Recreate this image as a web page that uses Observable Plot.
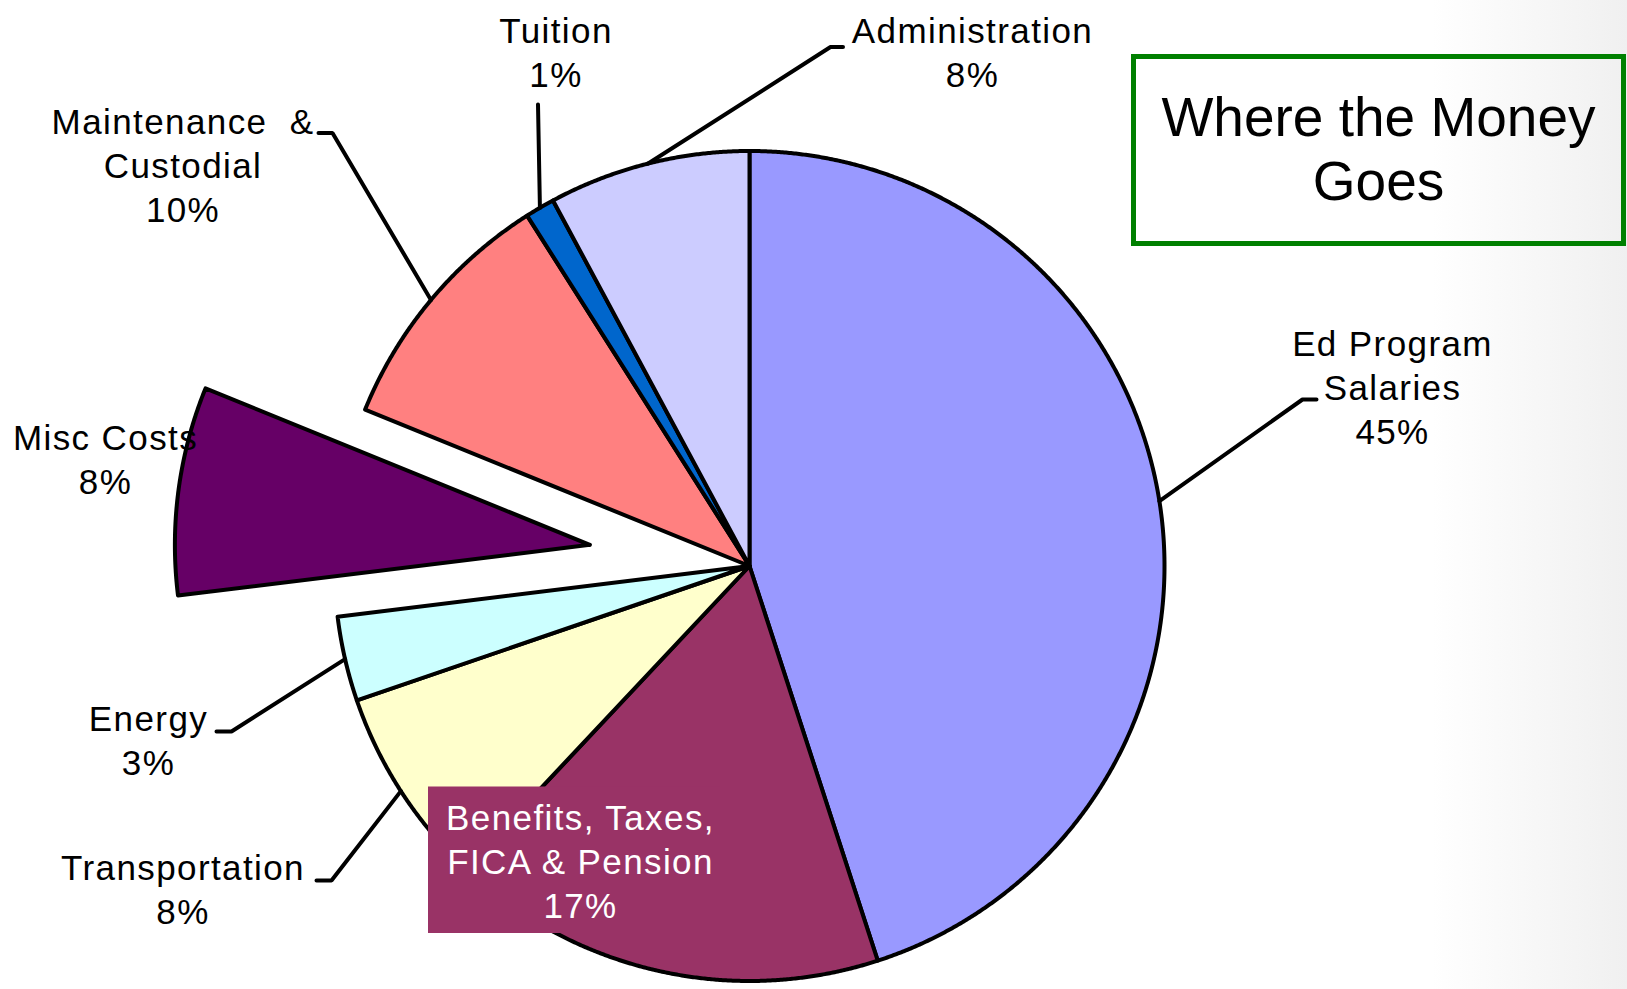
<!DOCTYPE html>
<html>
<head>
<meta charset="utf-8">
<script src="https://cdn.jsdelivr.net/npm/d3@7"></script>
<script src="https://cdn.jsdelivr.net/npm/@observablehq/plot@0.6"></script>
<style>
  html, body { margin: 0; padding: 0; }
  body {
    width: 1627px; height: 989px; overflow: hidden; position: relative;
    background: linear-gradient(90deg, #ffffff 0%, #ffffff 88%, #f0f0f0 100%);
    font-family: "Liberation Sans", Arial, sans-serif;
  }
  #chart { position: absolute; left: 0; top: 0; }
  #title {
    position: absolute; left: 1131px; top: 54px; width: 495px; height: 192px;
    box-sizing: border-box; border: 5px solid #008000;
    padding-top: 26px; text-align: center;
    font-size: 55px; line-height: 64px; color: #000;
  }
</style>
</head>
<body>
<div id="chart"></div>
<div id="title">Where the Money<br>Goes</div>
<script>
// ---- data ----
const categories = ["Ed Program Salaries", "Benefits, Taxes, FICA & Pension", "Transportation", "Energy",
                    "Misc Costs", "Maintenance & Custodial", "Tuition", "Administration"];
const values = [45.0, 17.0, 7.75, 3.3, 8.1, 9.85, 1.15, 7.85];
const labelNames = ["Ed Program\nSalaries", "Benefits, Taxes,\nFICA & Pension", "Transportation", "Energy",
                    "Misc Costs", "Maintenance\u00a0 &\nCustodial", "Tuition", "Administration"];
const sliceColors = ["#9999FF", "#993366", "#FFFFCC", "#CCFFFF", "#660066", "#FF8080", "#0066CC", "#CCCCFF"];
const explodedCategory = "Misc Costs";
const boxedCategory = "Benefits, Taxes, FICA & Pension";

// ---- layout (pixels relative to pie centre) ----
const R = 415, EXPLODE = 161, LINE_H = 44, FONT = 35;
const labelLayout = {
  "Ed Program Salaries":            {x: 643,    y: -210,   leader: [[553, -166.5], [567, -166.5]]},
  "Benefits, Taxes, FICA & Pension":{x: -169,   y: 264,    leader: null},
  "Transportation":                 {x: -566.5, y: 314,    leader: [[-418, 314.5], [-433, 314.5]]},
  "Energy":                         {x: -601,   y: 165,    leader: [[-518, 165.5], [-533, 165.5]]},
  "Misc Costs":                     {x: -644,   y: -116,   leader: null},
  "Maintenance & Custodial":        {x: -566.5, y: -432,   leader: [[-417, -433], [-431, -433]]},
  "Tuition":                        {x: -193.5, y: -523,   leader: [[-211.5, -461.5]]},
  "Administration":                 {x: 223,    y: -523,   leader: [[81, -519], [93.5, -519]]}
};
const labelBox = {x1: -321, x2: -29, y1: 221, y2: 367.5};

// ---- geometry from the data ----
const rows = categories.map((name, i) => ({name, value: values[i], label: labelNames[i]}));
const arcs = d3.pie().sort(null).value(d => d.value)(rows);

const slicePts = [];
const leaderPts = [];
const textRows = [];
arcs.forEach(a => {
  const name = a.data.name;
  const mid = (a.startAngle + a.endAngle) / 2;
  const off = name === explodedCategory ? EXPLODE : 0;
  const cx = off * Math.sin(mid), cy = -off * Math.cos(mid);
  slicePts.push({name, x: cx, y: cy});
  const n = Math.max(2, Math.ceil((a.endAngle - a.startAngle) / 0.004));
  for (let k = 0; k <= n; k++) {
    const t = a.startAngle + (a.endAngle - a.startAngle) * k / n;
    slicePts.push({name, x: cx + R * Math.sin(t), y: cy - R * Math.cos(t)});
  }
  slicePts.push({name, x: cx, y: cy});

  const lay = labelLayout[name];
  if (lay.leader) {
    leaderPts.push({name, x: cx + R * Math.sin(mid), y: cy - R * Math.cos(mid)});
    lay.leader.forEach(([x, y]) => leaderPts.push({name, x, y}));
  }
  const text = `${a.data.label}\n${Math.round(a.data.value)}%`;
  const nLines = text.split("\n").length;
  textRows.push({name, text, x: lay.x, y: lay.y + (nLines - 1) * LINE_H});
});

const textOpts = {
  x: "x", y: "y", text: "text", textAnchor: "middle", lineAnchor: "bottom",
  lineHeight: LINE_H / FONT, fontSize: FONT, fontFamily: "Liberation Sans, Arial, sans-serif"
};

const chart = Plot.plot({
  width: 1627, height: 989, margin: 0,
  style: {background: "transparent", letterSpacing: "1.4px", overflow: "visible"},
  x: {domain: [-749, 878], range: [0, 1627], axis: null},
  y: {domain: [-565.5, 423.5], range: [0, 989], axis: null},
  color: {domain: categories, range: sliceColors},
  marks: [
    Plot.line(slicePts, {x: "x", y: "y", z: "name", fill: "name", stroke: "black",
      strokeWidth: 4, strokeLinejoin: "round", strokeLinecap: "round", curve: "linear"}),
    Plot.line(leaderPts, {x: "x", y: "y", z: "name", stroke: "black", strokeWidth: 4,
      strokeLinejoin: "miter", curve: "linear"}),
    Plot.rect([labelBox], {x1: "x1", x2: "x2", y1: "y1", y2: "y2",
      fill: sliceColors[categories.indexOf(boxedCategory)]}),
    Plot.text(textRows.filter(d => d.name !== boxedCategory), {...textOpts, fill: "black"}),
    Plot.text(textRows.filter(d => d.name === boxedCategory), {...textOpts, fill: "white"})
  ]
});
document.getElementById("chart").appendChild(chart);
</script>
</body>
</html>
